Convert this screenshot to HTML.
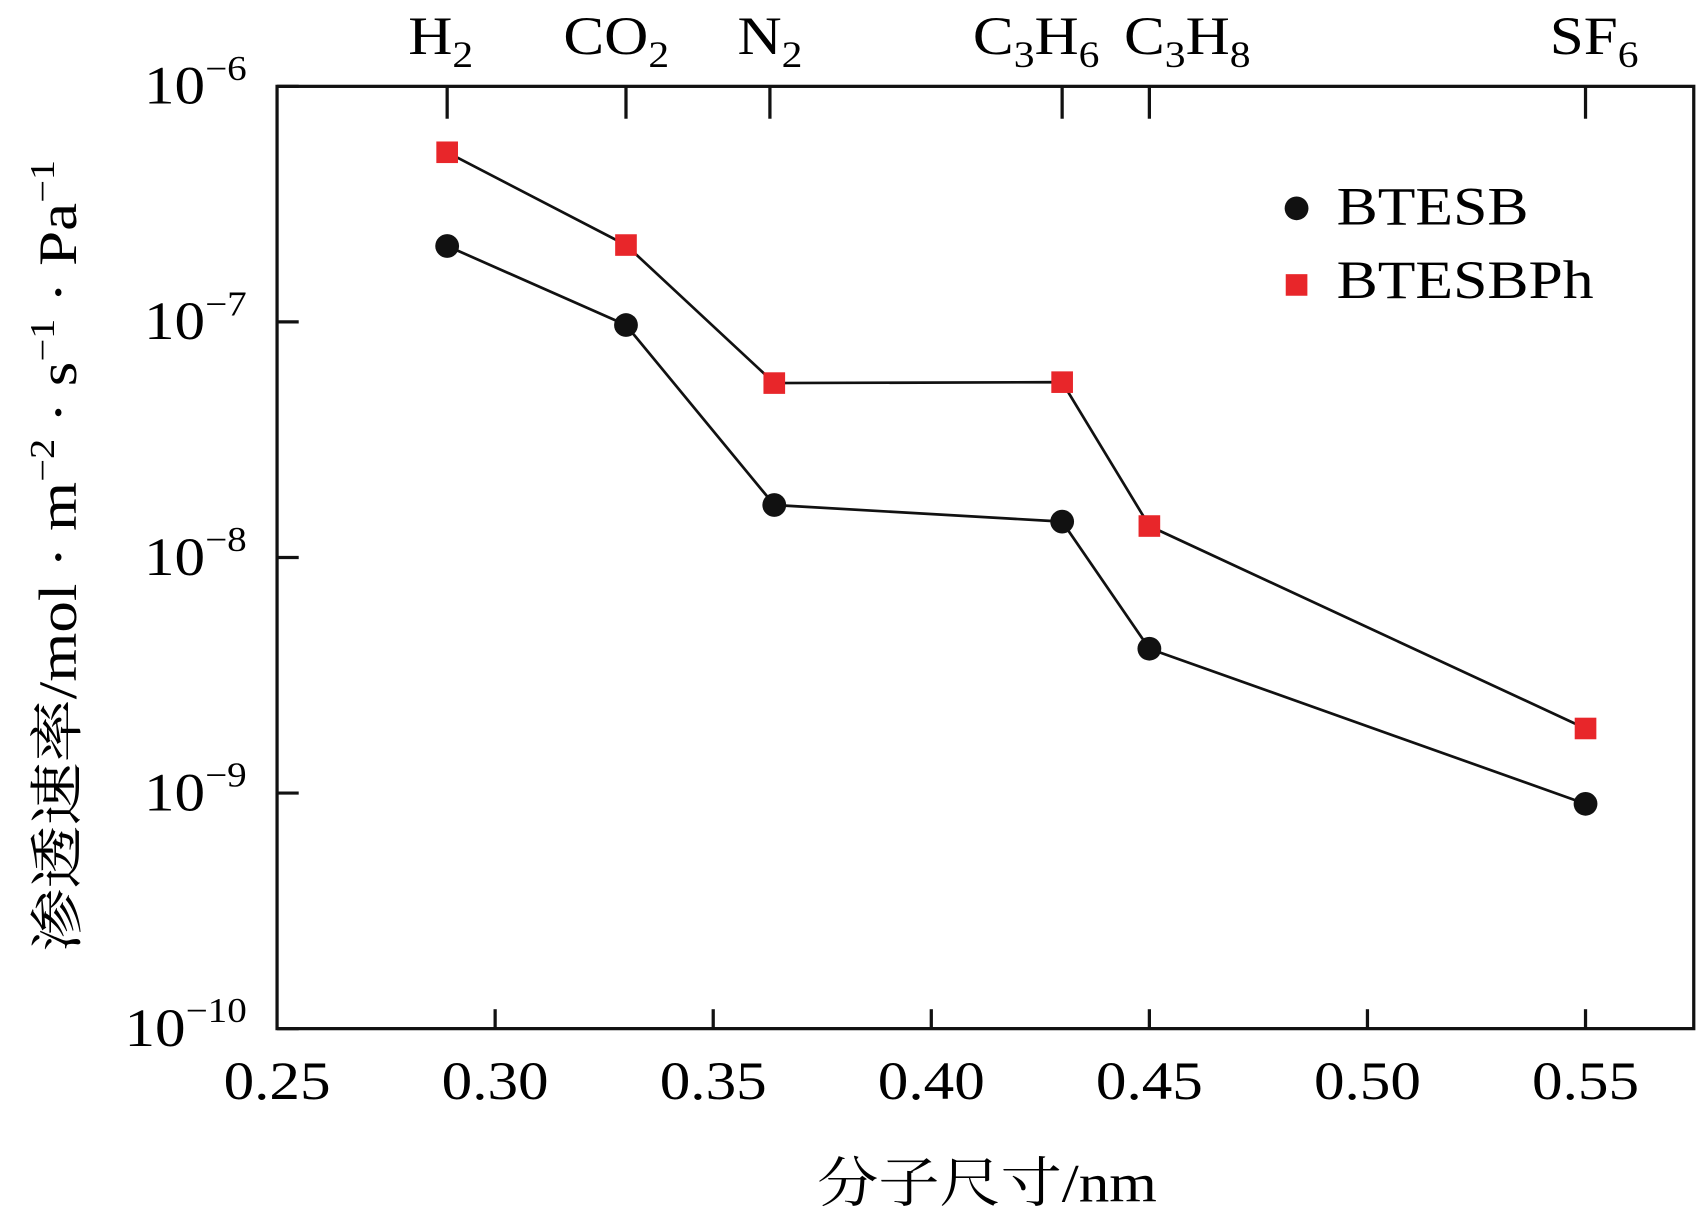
<!DOCTYPE html>
<html><head><meta charset="utf-8"><style>
html,body{margin:0;padding:0;background:#fff;}
svg{display:block;font-family:"Liberation Serif","Noto Serif CJK SC",serif;}
</style></head><body>
<svg id="chart" width="1697" height="1224" viewBox="0 0 1568 1134" preserveAspectRatio="none" xmlns="http://www.w3.org/2000/svg">
<rect x="0" y="0" width="1568" height="1134" fill="#fff"/>
<g id="axes"></g>
<g id="series"></g>
<g id="legend">
  <circle cx="1198" cy="193" r="11" fill="#111"/>
  <text transform="translate(1235,208) scale(1.14,1)" font-size="50">BTESB</text>
  <rect x="1188" y="254" width="20" height="20" fill="#e8262a"/>
  <text transform="translate(1235,276) scale(1.14,1)" font-size="50">BTESBPh</text>
</g>
<text transform="translate(912,1113) scale(1.13,1)" font-size="50" text-anchor="middle">分子尺寸/nm</text>
<text transform="translate(70,515) rotate(-90) scale(1.17,1)" font-size="50" text-anchor="middle">渗透速率/mol · m<tspan dy="-20" font-size="32">−2</tspan><tspan dy="20"> · s</tspan><tspan dy="-20" font-size="32">−1</tspan><tspan dy="20"> · Pa</tspan><tspan dy="-20" font-size="32">−1</tspan></text>
</svg>
<script>
const xs = [0.289, 0.330, 0.364, 0.430, 0.450, 0.550];
const btesb = [2.1e-7, 9.7e-8, 1.67e-8, 1.42e-8, 4.1e-9, 9.0e-10];
const btesbph = [5.25e-7, 2.12e-7, 5.5e-8, 5.55e-8, 1.36e-8, 1.88e-9];
const xTicks = [0.25, 0.30, 0.35, 0.40, 0.45, 0.50, 0.55];
const xTickLabels = ["0.25","0.30","0.35","0.40","0.45","0.50","0.55"];
const yDecades = [-6, -7, -8, -9, -10];
const gasX = [0.289, 0.330, 0.363, 0.430, 0.450, 0.550];
const gasNames = [["H","2"],["CO","2"],["N","2"],["C","3","H","6"],["C","3","H","8"],["SF","6"]];
const gasShift = [-6, -9, 0, -24, 35, 8];

const L=256,R=1565,T=80,B=953,SX=1.13;
const xScale=v=>L+(v-0.25)/0.05*201.5;
const yScale=v=>T+(-6-Math.log10(v))*218.25;
const NS="http://www.w3.org/2000/svg";
function mk(tag,attrs,parent){const e=document.createElementNS(NS,tag);for(const k in attrs)e.setAttribute(k,attrs[k]);parent.appendChild(e);return e;}
const ax=document.getElementById('axes');
const frame=mk('rect',{x:L,y:T,width:R-L,height:B-T,fill:'none',stroke:'#111','stroke-width':3},ax);


xTicks.forEach((v,i)=>{
  const x=xScale(v);
  if(i>0){const t=mk('line',{x1:x,x2:x,y1:B,y2:B-18,stroke:'#111','stroke-width':3},ax);
  
  }
  const lb=mk('text',{transform:`translate(${x},1018) scale(${SX},1)`,'font-size':50,'text-anchor':'middle'},ax);
  lb.textContent=xTickLabels[i];
  
  
});
yDecades.forEach(d=>{
  const y=yScale(Math.pow(10,d));
  const t=mk('line',{x1:L,x2:L+20,y1:y,y2:y,stroke:'#111','stroke-width':3},ax);
  
  
  const lb=mk('text',{transform:`translate(228,${y+16}) scale(${SX},1)`,'font-size':50,'text-anchor':'end'},ax);
  
  
  const a=document.createElementNS(NS,'tspan');a.textContent='10';lb.appendChild(a);
  const b=document.createElementNS(NS,'tspan');b.setAttribute('font-size','32');b.setAttribute('dy','-22');b.textContent='−'+(-d);lb.appendChild(b);
  if(d>-6){for(let m=2;m<=9;m++){const yy=yScale(m*Math.pow(10,d));
    const mt=mk('line',{x1:L,x2:L+11,y1:yy,y2:yy,stroke:'#111','stroke-width':2.5},ax);
    
    }}
});
gasX.forEach((v,i)=>{
  const x=xScale(v);
  const t=mk('line',{x1:x,x2:x,y1:T,y2:T+30,stroke:'#111','stroke-width':3},ax);
  
  
  const lb=mk('text',{transform:`translate(${x+gasShift[i]},50) scale(${SX},1)`,'font-size':50,'text-anchor':'middle'},ax);
  
  
  const parts=gasNames[i];
  parts.forEach((p,j)=>{const ts=document.createElementNS(NS,'tspan');
    if(j%2===1){ts.setAttribute('font-size','34');ts.setAttribute('dy','12');}
    else if(j>0){ts.setAttribute('dy','-12');}
    ts.textContent=p;lb.appendChild(ts);});
});
const sg=document.getElementById('series');
function drawSeries(vals,name,square){
  const pts=xs.map((x,i)=>xScale(x)+','+yScale(vals[i])).join(' ');
  const pl=mk('polyline',{points:pts,fill:'none',stroke:'#111','stroke-width':2.5},sg);
  
  
  xs.forEach((x,i)=>{
    const cx=xScale(x),cy=yScale(vals[i]);
    let m;
    if(square)m=mk('rect',{x:cx-10,y:cy-10,width:20,height:20,fill:'#e8262a'},sg);
    else m=mk('circle',{cx:cx,cy:cy,r:11,fill:'#111'},sg);
    
    
  });
}
drawSeries(btesb,'btesb',false);
drawSeries(btesbph,'btesbph',true);
</script>
</body></html>
